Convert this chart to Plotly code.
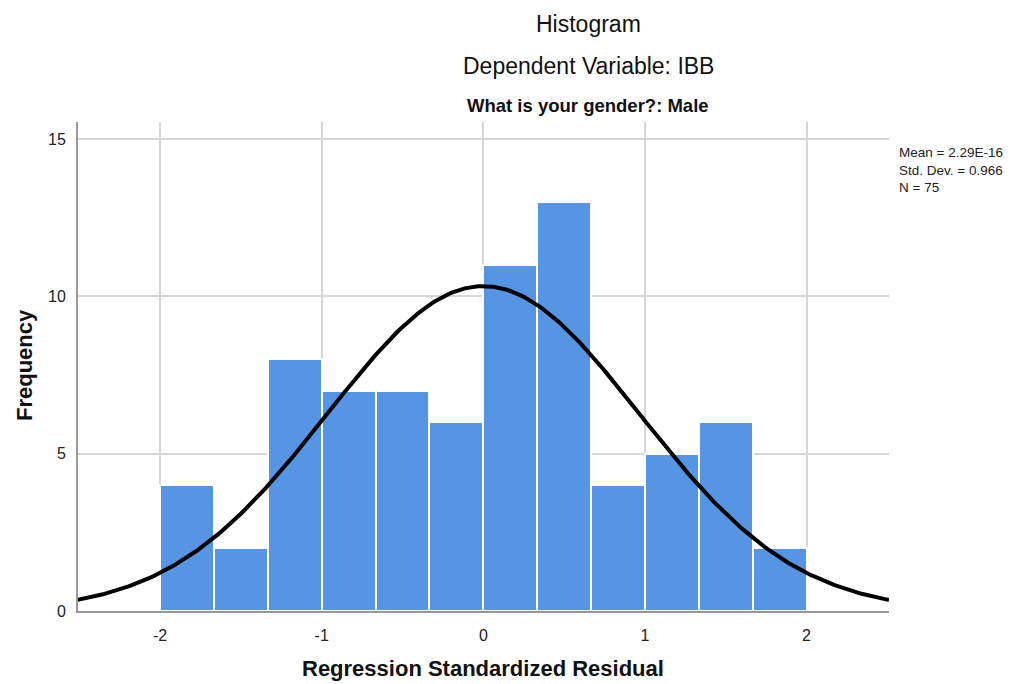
import numpy as np
import plotly.graph_objects as go

# ---- data ----
bin_width = 1/3
bin_starts = [-2.0 + i * bin_width for i in range(12)]
frequencies = [4, 2, 8, 7, 7, 6, 11, 13, 4, 5, 6, 2]
x_ticks = [-2, -1, 0, 1, 2]
y_ticks = [0, 5, 10, 15]
stat_mean = 2.29e-16
stat_sd = 0.966
stat_n = 75
stat_lines = ["Mean = 2.29E-16", "Std. Dev. = 0.966", "N = 75"]

bin_centers = [s + bin_width / 2 for s in bin_starts]

# fitted normal curve (from the stated mean, sd and N)
cx = np.linspace(-2.51, 2.51, 400)
cy = stat_n * bin_width * np.exp(-0.5 * ((cx - stat_mean) / stat_sd) ** 2) / (stat_sd * np.sqrt(2 * np.pi))

fig = go.Figure()
fig.add_trace(go.Bar(
    x=bin_centers, y=frequencies, width=[bin_width] * len(frequencies),
    marker=dict(color="#5595e3", line=dict(color="white", width=2)),
    hoverinfo="x+y", showlegend=False))
fig.add_trace(go.Scatter(
    x=cx, y=cy, mode="lines", line=dict(color="black", width=4),
    showlegend=False, hoverinfo="skip"))

FONT = "Liberation Sans, Arial, sans-serif"

# page body has an 8px margin; work in screen pixels and shift
OFF = 8
W, H = 1019 - OFF, 684 - OFF
PL, PR, PT, PB = 78 - OFF, 889 - OFF, 122 - OFF, 611 - OFF

fig.update_layout(
    width=W, height=H,
    margin=dict(l=PL, r=W - PR, t=PT, b=H - PB),
    paper_bgcolor="white", plot_bgcolor="white",
    font=dict(family=FONT, color="#222"),
    bargap=0,
    xaxis=dict(range=[-2.508, 2.51], tickvals=x_ticks, ticktext=[str(v) for v in x_ticks],
               showgrid=True, gridcolor="#d6d6d6", gridwidth=2, automargin=False,
               showline=True, linecolor="#999999", linewidth=2, zeroline=False,
               ticks="", tickfont=dict(size=16, color="#222"), ticklabelstandoff=9),
    yaxis=dict(range=[0, 15.54], tickvals=y_ticks, ticktext=[str(v) for v in y_ticks],
               showgrid=True, gridcolor="#d6d6d6", gridwidth=2, automargin=False,
               showline=True, linecolor="#999999", linewidth=2, zeroline=False,
               ticks="", tickfont=dict(size=16, color="#222"), ticklabelstandoff=7),
)


def px_x(x):
    return (x - OFF - PL) / (PR - PL)


def px_y(y):
    return (PB - (y - OFF)) / (PB - PT)


titles = [("Histogram", 23, 24), ("Dependent Variable: IBB", 23, 66), ("<b>What is your gender?: Male</b>", 18.5, 105)]
for txt, size, ypx in titles:
    fig.add_annotation(text=txt, xref="paper", yref="paper",
                       x=px_x(588), y=px_y(ypx),
                       xanchor="center", yanchor="middle", showarrow=False,
                       font=dict(size=size, color="#111", family=FONT))

# axis titles
fig.add_annotation(text="<b>Regression Standardized Residual</b>", xref="paper", yref="paper",
                   x=px_x(483), y=px_y(668), xanchor="center", yanchor="middle", showarrow=False,
                   font=dict(size=22, color="#111", family=FONT))
fig.add_annotation(text="<b>Frequency</b>", xref="paper", yref="paper", textangle=-90,
                   x=px_x(24), y=px_y(365), xanchor="center", yanchor="middle", showarrow=False,
                   font=dict(size=22, color="#111", family=FONT))

fig.add_annotation(text="<br>".join(stat_lines), xref="paper", yref="paper",
                   x=px_x(897), y=px_y(170), align="left",
                   xanchor="left", yanchor="middle", showarrow=False,
                   font=dict(size=13.5, color="#222", family=FONT))

fig.write_html("out.html")
